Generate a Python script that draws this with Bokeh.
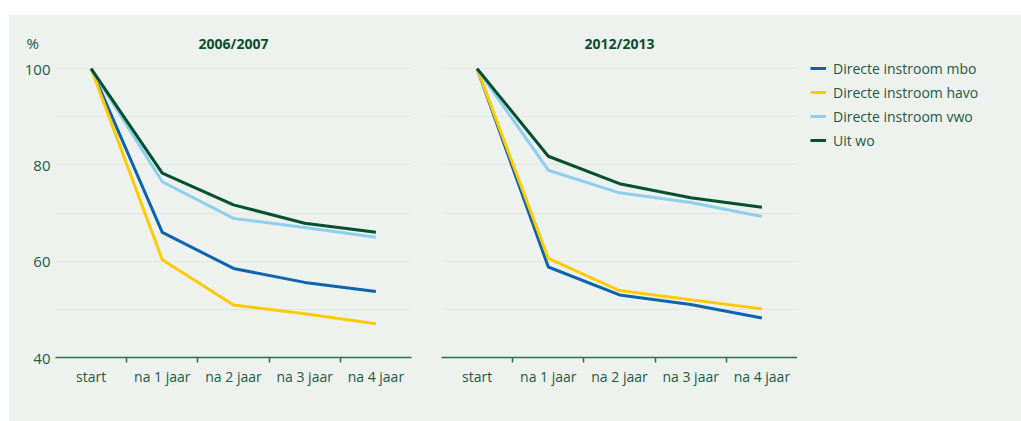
from bokeh.plotting import figure
from bokeh.models import FixedTicker, Label, Legend, LegendItem, Spacer
from bokeh.layouts import row, column
from bokeh.embed import file_html
from bokeh.resources import INLINE

categories = ["start", "na 1 jaar", "na 2 jaar", "na 3 jaar", "na 4 jaar"]
series_names = ["Directe instroom mbo", "Directe instroom havo", "Directe instroom vwo", "Uit wo"]

mbo_2006 = [100, 66.0, 58.5, 55.6, 53.7]
havo_2006 = [100, 60.3, 50.9, 49.1, 47.0]
vwo_2006 = [100, 76.5, 68.9, 67.0, 65.0]
wo_2006 = [100, 78.3, 71.7, 67.9, 66.0]

mbo_2012 = [100, 58.8, 53.0, 51.0, 48.2]
havo_2012 = [100, 60.6, 53.9, 52.0, 50.1]
vwo_2012 = [100, 78.9, 74.2, 72.2, 69.3]
wo_2012 = [100, 81.8, 76.1, 73.2, 71.2]

y_ticks = [40, 50, 60, 70, 80, 90, 100]
y_labels = {40: "40", 50: "", 60: "60", 70: "", 80: "80", 90: "", 100: "100"}
unit_label = "%"
titles = ["2006/2007", "2012/2013"]

COLORS = ["#0e63ae", "#ffcb05", "#8dcfef", "#044f2e"]
BG = "#eef2ef"
TXT = "#215a43"
FONT = "Open Sans"
UNIT_POS = 105.3
H = 406

xs = [i + 0.5 for i in range(len(categories))]


def make_fig(width, left, right, title, data, show_y):
    p = figure(width=width, height=H, x_range=(0, 5), y_range=(40, 110),
               output_backend="svg", toolbar_location=None,
               min_border_left=left, min_border_right=right,
               min_border_top=5, min_border_bottom=64,
               background_fill_color=BG, border_fill_color=BG, outline_line_color=None)
    p.xgrid.visible = False
    p.ygrid.ticker = FixedTicker(ticks=y_ticks[1:])
    p.ygrid.grid_line_color = "#e0e7e2"
    p.ygrid.grid_line_width = 1

    xa = p.xaxis[0]
    xa.ticker = FixedTicker(ticks=xs, minor_ticks=[1, 2, 3, 4])
    xa.major_label_overrides = {x: c for x, c in zip(xs, categories)}
    xa.major_tick_out = 0
    xa.major_tick_in = 0
    xa.minor_tick_out = 5
    xa.minor_tick_in = 0
    xa.axis_line_color = "#2f6b52"
    xa.axis_line_width = 1.5
    xa.minor_tick_line_color = "#2f6b52"
    xa.minor_tick_line_width = 1.5
    xa.major_label_text_font = FONT
    xa.major_label_text_font_size = "14px"
    xa.major_label_text_color = TXT
    xa.major_label_standoff = 4

    ya = p.yaxis[0]
    if show_y:
        ya.ticker = FixedTicker(ticks=y_ticks + [UNIT_POS])
        labels = dict(y_labels)
        labels[UNIT_POS] = unit_label + "\u00a0\u00a0\u00a0"
        ya.major_label_overrides = labels
        ya.major_tick_out = 0
        ya.major_tick_in = 0
        ya.minor_tick_out = 0
        ya.minor_tick_in = 0
        ya.axis_line_color = None
        ya.major_label_text_font = FONT
        ya.major_label_text_font_size = "15px"
        ya.major_label_text_color = TXT
        ya.major_label_standoff = 5
    else:
        ya.visible = False

    renderers = []
    for vals, col in zip(data, COLORS):
        r = p.line(xs, vals, line_color=col, line_width=3, line_join="round")
        renderers.append(r)

    p.add_layout(Label(x=2.5, y=UNIT_POS, text=title, text_align="center", text_baseline="middle",
                       text_font=FONT, text_font_style="bold", text_font_size="14px",
                       text_color="#0b4d2e"))
    return p, renderers


data_2006 = [mbo_2006, havo_2006, vwo_2006, wo_2006]
data_2012 = [mbo_2012, havo_2012, vwo_2012, wo_2012]

p1, _ = make_fig(416, 46, 14, titles[0], data_2006, True)
p2, _ = make_fig(372, 16, 0, titles[1], data_2012, False)

# legend panel: same series, kept out of view so only the legend shows
p3 = figure(width=224, height=H, x_range=(0, 5), y_range=(1000, 1001),
            output_backend="svg", toolbar_location=None,
            x_axis_location=None, y_axis_location=None,
            min_border_left=0, min_border_right=0, min_border_top=5, min_border_bottom=64,
            background_fill_color=BG, border_fill_color=BG, outline_line_color=None)
p3.grid.visible = False
leg_renderers = [p3.line(xs, vals, line_color=col, line_width=3) for vals, col in zip(data_2012, COLORS)]
legend = Legend(items=[LegendItem(label=n, renderers=[r]) for n, r in zip(series_names, leg_renderers)],
                location=(13, 207), padding=0, margin=0, spacing=4,
                label_height=20, glyph_height=20, glyph_width=16, label_standoff=7,
                label_text_font=FONT, label_text_font_size="14px", label_text_color=TXT,
                background_fill_alpha=0, border_line_color=None)
p3.add_layout(legend)

panels = row(p1, p2, p3, spacing=0, styles={"background-color": BG})
layout = column(Spacer(width=1021, height=15),
                row(Spacer(width=9, height=H), panels, spacing=0),
                spacing=0)

open("out.html", "w").write(file_html(layout, INLINE))
